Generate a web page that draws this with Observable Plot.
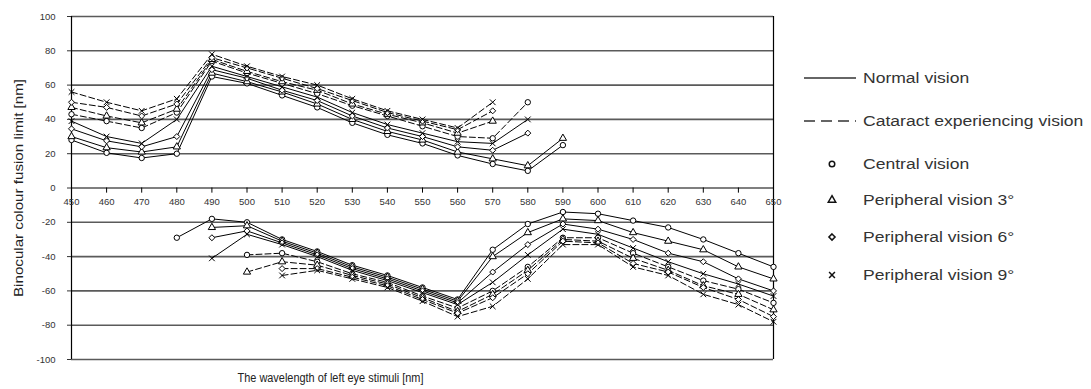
<!DOCTYPE html>
<html>
<head>
<meta charset="utf-8">
<script src="https://cdn.jsdelivr.net/npm/d3@7"></script>
<script src="https://cdn.jsdelivr.net/npm/@observablehq/plot@0.6"></script>
<style>
  body { margin: 0; background: #fff; font-family: "Liberation Sans", Arial, sans-serif; }
  #wrap { position: relative; width: 1091px; height: 389px; overflow: hidden; background: #fff; }
  #chart { position: absolute; left: 0; top: 0; }
  #legend { position: absolute; left: 0; top: 0; }
</style>
</head>
<body>
<div id="wrap"><div id="chart"></div><svg id="legend" width="1091" height="389"></svg></div>
<script>
// ---------- data ----------
const wavelengths = [450,460,470,480,490,500,510,520,530,540,550,560,570,580,590,600,610,620,630,640,650];
const xTickLabels = wavelengths;
const yTickLabels = [-100,-80,-60,-40,-20,0,20,40,60,80,100];
const visions = ["Central vision","Peripheral vision 3°","Peripheral vision 6°","Peripheral vision 9°"];
const conditions = ["Normal vision","Cataract experiencing vision"];
const _ = null;

// upper (positive) limits
const upperNormalCentral   = [28,20.5,17.5,20,65,61,54,47,38,31,26,19,14,10,25,_,_,_,_,_,_];
const upperNormal3         = [30,23.5,21,24,67,62,56,49,40,33,28,21,17,13,29,_,_,_,_,_,_];
const upperNormal6         = [34.5,27.5,24,30,69,64,57,51,42,35,30,24,22,32,_,_,_,_,_,_,_];
const upperNormal9         = [39,30,26,40,71,65,59,53,44,37,32,27,26,40,_,_,_,_,_,_,_];
const upperCataractCentral = [43,39,35,44,74,67,61,55,48,42,36,30,29,50,_,_,_,_,_,_,_];
const upperCataract3       = [47,42,38,46,75,68,62,57,49,43,38,32,39,_,_,_,_,_,_,_,_];
const upperCataract6       = [50,47,42,49,76,70,64,58,51,44,39,34,45,_,_,_,_,_,_,_,_];
const upperCataract9       = [56,50,45,52,78,71,65,60,52,45,40,35,50,_,_,_,_,_,_,_,_];

// lower (negative) limits
const lowerNormalCentral   = [_,_,_,-29,-18,-20,-30,-37,-45,-51,-58,-65,-36,-21,-14,-15,-19,-23,-30,-38,-46];
const lowerNormal3         = [_,_,_,_,-23,-22,-31,-38,-46,-52,-59,-66,-40,-26,-18,-19,-26,-31,-36,-46,-53];
const lowerNormal6         = [_,_,_,_,-29,-25,-32,-39,-47,-53,-60,-67,-49,-33,-21,-24,-30,-38,-43,-53,-60];
const lowerNormal9         = [_,_,_,_,-41,-27,-33,-40,-48,-54,-61,-68,-55,-39,-24,-27,-35,-43,-50,-56,-63];
const lowerCataractCentral = [_,_,_,_,_,-39,-38,-43,-50,-55,-63,-70,-60,-46,-29,-29,-38,-46,-54,-59,-67];
const lowerCataract3       = [_,_,_,_,_,-49,-43,-45,-51,-56,-64,-72,-62,-48,-30,-31,-41,-48,-57,-62,-71];
const lowerCataract6       = [_,_,_,_,_,_,-47,-47,-52,-57,-65,-73,-64,-50,-31,-32,-44,-49,-58,-65,-75];
const lowerCataract9       = [_,_,_,_,_,_,-51,-48,-53,-58,-66,-75,-69,-53,-33,-33,-46,-51,-62,-68,-78];

const series = [
  ["upper", conditions[0], visions[0], upperNormalCentral],
  ["upper", conditions[0], visions[1], upperNormal3],
  ["upper", conditions[0], visions[2], upperNormal6],
  ["upper", conditions[0], visions[3], upperNormal9],
  ["upper", conditions[1], visions[0], upperCataractCentral],
  ["upper", conditions[1], visions[1], upperCataract3],
  ["upper", conditions[1], visions[2], upperCataract6],
  ["upper", conditions[1], visions[3], upperCataract9],
  ["lower", conditions[0], visions[0], lowerNormalCentral],
  ["lower", conditions[0], visions[1], lowerNormal3],
  ["lower", conditions[0], visions[2], lowerNormal6],
  ["lower", conditions[0], visions[3], lowerNormal9],
  ["lower", conditions[1], visions[0], lowerCataractCentral],
  ["lower", conditions[1], visions[1], lowerCataract3],
  ["lower", conditions[1], visions[2], lowerCataract6],
  ["lower", conditions[1], visions[3], lowerCataract9]
];

const rows = series.flatMap(([branch, condition, vision, values]) =>
  values.map((v, i) => ({wavelength: wavelengths[i], limit: v, condition, vision, key: branch + "|" + condition + "|" + vision}))
        .filter(d => d.limit != null));

const symbolRange = ["circle","triangle","diamond2","times"];
const gridValues = yTickLabels.filter(d => d !== 0);

const chart = Plot.plot({
  width: 790, height: 389,
  marginLeft: 71, marginRight: 17, marginTop: 16, marginBottom: 30,
  style: {fontFamily: "'Liberation Sans', Arial, sans-serif", fontSize: "9.5px", background: "#fff", color: "#000"},
  x: {domain: [450, 650], axis: null},
  y: {domain: [-100, 100], axis: null},
  symbol: {domain: visions, range: symbolRange},
  marks: [
    Plot.ruleY(gridValues, {stroke: "#5a5a5a", strokeWidth: 1.6}),
    Plot.ruleY([0], {stroke: "#000", strokeWidth: 1.2}),
    Plot.ruleX([450, 650], {stroke: "#000", strokeWidth: 1.2}),
    Plot.ruleX(xTickLabels, {x: d => d, y1: 0, y2: -3, stroke: "#000", strokeWidth: 1}),
    Plot.text(xTickLabels, {x: d => d, y: 0, dy: 14, text: d => String(d), fill: "#333", fontSize: 9.5}),
    Plot.axisY({ticks: yTickLabels, tickSize: 4, tickPadding: 12, tickFormat: d => String(d), label: null, fontSize: 9.5, color: "#333"}),
    Plot.line(rows.filter(d => d.condition === conditions[0]), {x: "wavelength", y: "limit", z: "key", stroke: "#000", strokeWidth: 1}),
    Plot.line(rows.filter(d => d.condition === conditions[1]), {x: "wavelength", y: "limit", z: "key", stroke: "#000", strokeWidth: 1, strokeDasharray: "6,3"}),
    Plot.dot(rows, {x: "wavelength", y: "limit", symbol: "vision", r: 2.7, fill: "#fff", stroke: "#000", strokeWidth: 1}),
    Plot.text(["Binocular colour fusion limit [nm]"], {frameAnchor: "left", textAnchor: "middle", rotate: -90, dx: -53, fontSize: 12.5, fill: "#222"}),
    Plot.text(["The wavelength of left eye stimuli [nm]"], {frameAnchor: "bottom", textAnchor: "middle", dx: -92, dy: 22, fontSize: 12.5, fill: "#222"})
  ]
});
document.getElementById("chart").appendChild(chart);

// stretch axis titles to match reference widths
d3.select(chart).selectAll("text").each(function() {
  const t = this.textContent;
  if (t === "Binocular colour fusion limit [nm]") d3.select(this).attr("textLength", 218).attr("lengthAdjust", "spacingAndGlyphs");
  if (t === "The wavelength of left eye stimuli [nm]") d3.select(this).attr("textLength", 186).attr("lengthAdjust", "spacingAndGlyphs");
});

// ---------- legend ----------
const lg = d3.select("#legend");
const lineItems = [
  {label: conditions[0], y: 78, dash: null},
  {label: conditions[1], y: 121, dash: "11,6"}
];
const symItems = visions.map((v, i) => ({label: v, y: [164, 200, 237, 275][i], sym: symbolRange[i]}));
const symMap = {circle: d3.symbolCircle, triangle: d3.symbolTriangle, diamond2: d3.symbolDiamond2, times: d3.symbolTimes};

lineItems.forEach(d => {
  lg.append("line").attr("x1", 804).attr("x2", 856).attr("y1", d.y).attr("y2", d.y)
    .attr("stroke", "#333").attr("stroke-width", 1.6).attr("stroke-dasharray", d.dash);
});
symItems.forEach(d => {
  lg.append("path").attr("transform", `translate(832,${d.y})`)
    .attr("d", d3.symbol(symMap[d.sym], 24)())
    .attr("fill", "#fff").attr("stroke", "#111").attr("stroke-width", 1.5);
});
const tg = lg.append("g").attr("transform", "translate(863,0) scale(1.17,1)");
[...lineItems, ...symItems].forEach(d => {
  tg.append("text").attr("x", 0).attr("y", d.y).attr("dy", "0.35em")
    .attr("font-family", "'Liberation Sans', Arial, sans-serif").attr("font-size", 15)
    .attr("fill", "#333").text(d.label);
});
</script>
</body>
</html>
